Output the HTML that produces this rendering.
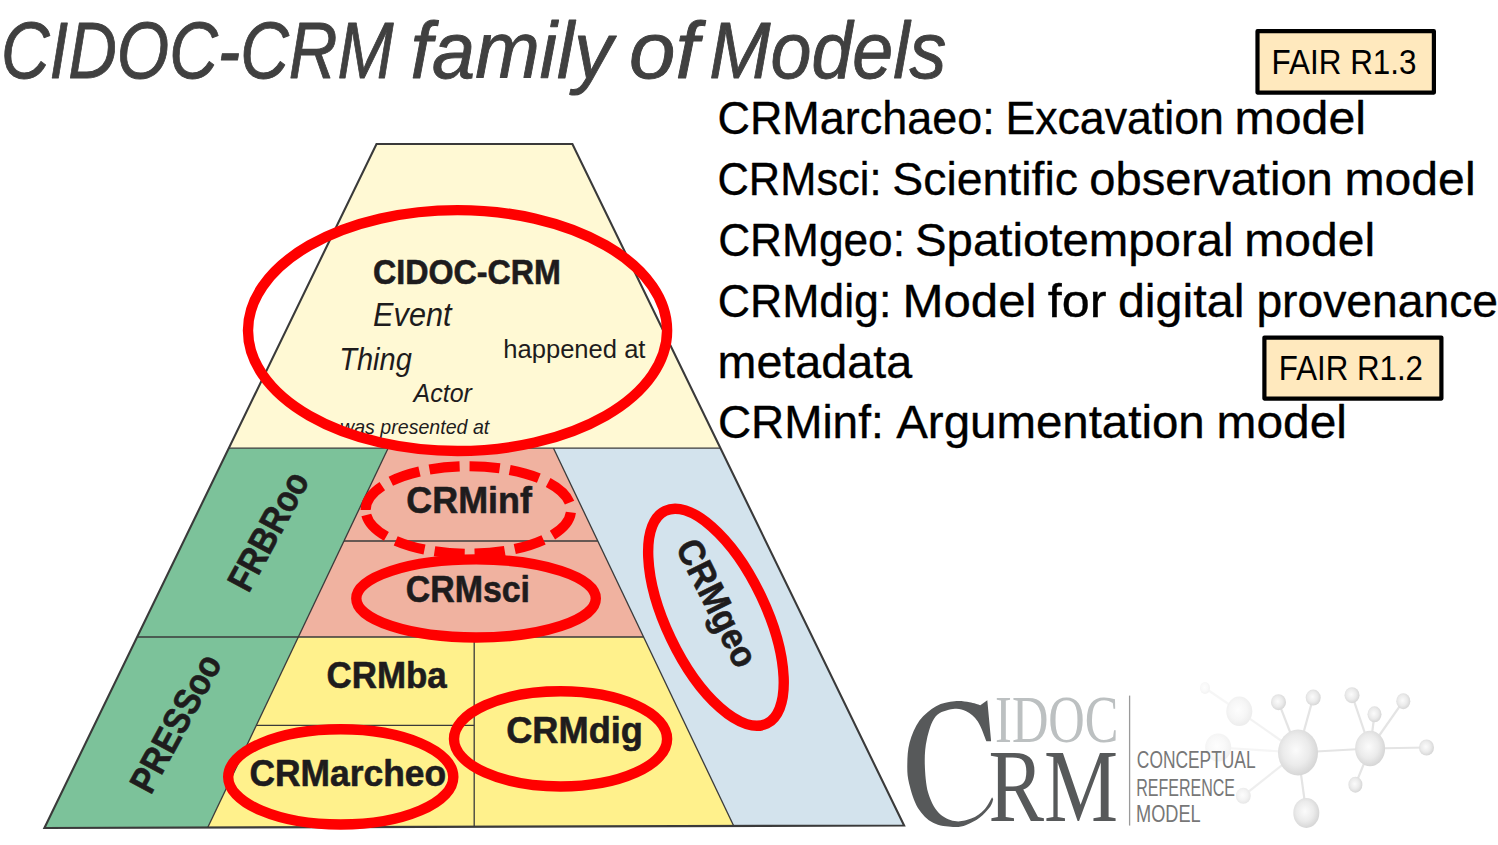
<!DOCTYPE html>
<html><head><meta charset="utf-8"><style>
html,body{margin:0;padding:0;background:#fff;width:1498px;height:845px;overflow:hidden}
svg{display:block}
text{font-kerning:normal}
</style></head><body>
<svg width="1498" height="845" viewBox="0 0 1498 845">
<defs>
<radialGradient id="sph" cx="0.45" cy="0.45" r="0.6"><stop offset="0" stop-color="#fbfbfb"/><stop offset="0.55" stop-color="#ebebeb"/><stop offset="1" stop-color="#d2d2d2"/></radialGradient>
</defs>
<rect width="1498" height="845" fill="#fff"/>
<text transform="translate(0.93,77.80) scale(0.8415,1)" font-family="&quot;Liberation Sans&quot;, sans-serif" font-size="80" fill="#404040" font-style="italic" stroke="#404040" stroke-width="0.9" stroke-linejoin="round">CIDOC-CRM</text><text transform="translate(410.60,77.80) scale(0.9681,1)" font-family="&quot;Liberation Sans&quot;, sans-serif" font-size="80" fill="#404040" font-style="italic" stroke="#404040" stroke-width="0.9" stroke-linejoin="round">family</text><text transform="translate(629.08,77.80) scale(1.0414,1)" font-family="&quot;Liberation Sans&quot;, sans-serif" font-size="80" fill="#404040" font-style="italic" stroke="#404040" stroke-width="0.9" stroke-linejoin="round">of</text><text transform="translate(709.24,77.80) scale(0.9198,1)" font-family="&quot;Liberation Sans&quot;, sans-serif" font-size="80" fill="#404040" font-style="italic" stroke="#404040" stroke-width="0.9" stroke-linejoin="round">Models</text>
<g id="pyr">
<polygon points="376.50,144.00 572.40,144.00 720.46,448.20 228.80,448.20" fill="#FFF9D4"/><polygon points="228.80,448.20 388.10,448.20 207.73,827.53 44.40,828.00" fill="#7CC29A"/><polygon points="388.10,448.20 553.50,448.20 643.58,637.00 298.33,637.00" fill="#F0B2A0"/><polygon points="298.33,637.00 643.58,637.00 733.76,825.99 207.73,827.53" fill="#FFF18C"/><polygon points="553.50,448.20 720.46,448.20 904.10,825.50 733.76,825.99" fill="#D3E3ED"/>
<g stroke="#3a3a3a" stroke-width="1.3"><line x1="228.80" y1="448.2" x2="720.46" y2="448.2"/><line x1="137.14" y1="637" x2="643.58" y2="637"/><line x1="343.98" y1="541" x2="597.77" y2="541"/><line x1="256.29" y1="725.4" x2="474.2" y2="725.4"/><line x1="474.2" y1="637" x2="474.2" y2="826.75"/><line x1="388.10" y1="448.2" x2="207.73" y2="827.53"/><line x1="553.50" y1="448.2" x2="733.76" y2="825.99"/></g>
<polygon points="376.50,144.00 572.40,144.00 904.10,825.50 44.40,828.00" fill="none" stroke="#3a3a3a" stroke-width="2.1" stroke-linejoin="miter"/>
</g>
<g id="ptext">
<text transform="translate(373.06,284.10) scale(0.9396,1)" font-family="&quot;Liberation Sans&quot;, sans-serif" font-size="34.3" fill="#1e1c1d" font-weight="bold" stroke="#1e1c1d" stroke-width="0.6" stroke-linejoin="round">CIDOC-CRM</text><text transform="translate(373.10,326.40) scale(0.9023,1)" font-family="&quot;Liberation Sans&quot;, sans-serif" font-size="34" fill="#1e1c1d" font-style="italic">Event</text><text transform="translate(339.25,369.70) scale(0.9507,1)" font-family="&quot;Liberation Sans&quot;, sans-serif" font-size="30.5" fill="#1e1c1d" font-style="italic">Thing</text><text transform="translate(503.23,358.20) scale(0.9845,1)" font-family="&quot;Liberation Sans&quot;, sans-serif" font-size="26" fill="#1e1c1d">happened at</text><text transform="translate(413.58,401.60) scale(0.9774,1)" font-family="&quot;Liberation Sans&quot;, sans-serif" font-size="25.6" fill="#1e1c1d" font-style="italic">Actor</text><text transform="translate(340.07,434.30) scale(0.9337,1)" font-family="&quot;Liberation Sans&quot;, sans-serif" font-size="21" fill="#1e1c1d" font-style="italic">was presented at</text>
<text transform="translate(406.36,512.80) scale(0.9703,1)" font-family="&quot;Liberation Sans&quot;, sans-serif" font-size="37" fill="#1e1c1d" font-weight="bold" stroke="#1e1c1d" stroke-width="0.6" stroke-linejoin="round">CRMinf</text><text transform="translate(405.67,601.70) scale(0.9168,1)" font-family="&quot;Liberation Sans&quot;, sans-serif" font-size="37" fill="#1e1c1d" font-weight="bold" stroke="#1e1c1d" stroke-width="0.6" stroke-linejoin="round">CRMsci</text><text transform="translate(326.51,688.30) scale(0.9437,1)" font-family="&quot;Liberation Sans&quot;, sans-serif" font-size="37" fill="#1e1c1d" font-weight="bold" stroke="#1e1c1d" stroke-width="0.6" stroke-linejoin="round">CRMba</text><text transform="translate(506.14,743.40) scale(0.9793,1)" font-family="&quot;Liberation Sans&quot;, sans-serif" font-size="37" fill="#1e1c1d" font-weight="bold" stroke="#1e1c1d" stroke-width="0.6" stroke-linejoin="round">CRMdig</text><text transform="translate(249.39,785.60) scale(0.9569,1)" font-family="&quot;Liberation Sans&quot;, sans-serif" font-size="37" fill="#1e1c1d" font-weight="bold" stroke="#1e1c1d" stroke-width="0.6" stroke-linejoin="round">CRMarcheo</text><text transform="translate(268.00,531.00) rotate(-61.5) scale(0.8750,1) translate(-74.00,13.00)" font-family="&quot;Liberation Sans&quot;, sans-serif" font-size="37" fill="#1e1c1d" font-weight="bold" stroke="#1e1c1d" stroke-width="0.6" stroke-linejoin="round">FRBRoo</text><text transform="translate(175.40,723.00) rotate(-61.5) scale(0.8862,1) translate(-85.50,13.00)" font-family="&quot;Liberation Sans&quot;, sans-serif" font-size="37" fill="#1e1c1d" font-weight="bold" stroke="#1e1c1d" stroke-width="0.6" stroke-linejoin="round">PRESSoo</text><text transform="translate(714.00,605.00) rotate(63.5) scale(0.9184,1) translate(-75.50,9.00)" font-family="&quot;Liberation Sans&quot;, sans-serif" font-size="37" fill="#1e1c1d" font-weight="bold" stroke="#1e1c1d" stroke-width="0.6" stroke-linejoin="round">CRMgeo</text>
</g>
<g fill="none" stroke="#FF0000" stroke-width="10.4"><ellipse cx="457.55" cy="330.55" rx="209.55" ry="120.45"/><ellipse cx="476.05" cy="598.45" rx="119.75" ry="39.05"/><ellipse cx="560.55" cy="738.90" rx="106.55" ry="47.60"/><ellipse cx="340.75" cy="776.88" rx="112.55" ry="47.63"/><ellipse cx="0" cy="0" rx="117.9" ry="49.8" transform="translate(715.95,617.25) rotate(64.5)"/></g>
<path d="M365.65,510.00 A102.7,43.75 0 0 1 571.05,510.00 A102.7,43.75 0 0 1 365.65,510.00" fill="none" stroke="#FF0000" stroke-width="10.1" stroke-dasharray="30.2 10.07"/>
<g id="list"><text transform="translate(717.45,133.90) scale(0.9770,1)" font-family="&quot;Liberation Sans&quot;, sans-serif" font-size="46" fill="#000" stroke="#000" stroke-width="0.35" stroke-linejoin="round">CRMarchaeo:</text><text transform="translate(1005.42,133.90) scale(0.9711,1)" font-family="&quot;Liberation Sans&quot;, sans-serif" font-size="46" fill="#000" stroke="#000" stroke-width="0.35" stroke-linejoin="round">Excavation</text><text transform="translate(1234.55,133.90) scale(1.0487,1)" font-family="&quot;Liberation Sans&quot;, sans-serif" font-size="46" fill="#000" stroke="#000" stroke-width="0.35" stroke-linejoin="round">model</text><text transform="translate(717.51,194.80) scale(0.9440,1)" font-family="&quot;Liberation Sans&quot;, sans-serif" font-size="46" fill="#000" stroke="#000" stroke-width="0.35" stroke-linejoin="round">CRMsci:</text><text transform="translate(892.28,194.80) scale(1.0088,1)" font-family="&quot;Liberation Sans&quot;, sans-serif" font-size="46" fill="#000" stroke="#000" stroke-width="0.35" stroke-linejoin="round">Scientific</text><text transform="translate(1089.25,194.80) scale(1.0245,1)" font-family="&quot;Liberation Sans&quot;, sans-serif" font-size="46" fill="#000" stroke="#000" stroke-width="0.35" stroke-linejoin="round">observation</text><text transform="translate(1344.46,194.80) scale(1.0471,1)" font-family="&quot;Liberation Sans&quot;, sans-serif" font-size="46" fill="#000" stroke="#000" stroke-width="0.35" stroke-linejoin="round">model</text><text transform="translate(718.18,255.70) scale(0.9617,1)" font-family="&quot;Liberation Sans&quot;, sans-serif" font-size="46" fill="#000" stroke="#000" stroke-width="0.35" stroke-linejoin="round">CRMgeo:</text><text transform="translate(914.94,255.70) scale(1.0303,1)" font-family="&quot;Liberation Sans&quot;, sans-serif" font-size="46" fill="#000" stroke="#000" stroke-width="0.35" stroke-linejoin="round">Spatiotemporal</text><text transform="translate(1244.27,255.70) scale(1.0445,1)" font-family="&quot;Liberation Sans&quot;, sans-serif" font-size="46" fill="#000" stroke="#000" stroke-width="0.35" stroke-linejoin="round">model</text><text transform="translate(717.66,316.60) scale(0.9711,1)" font-family="&quot;Liberation Sans&quot;, sans-serif" font-size="46" fill="#000" stroke="#000" stroke-width="0.35" stroke-linejoin="round">CRMdig:</text><text transform="translate(902.42,316.60) scale(1.0703,1)" font-family="&quot;Liberation Sans&quot;, sans-serif" font-size="46" fill="#000" stroke="#000" stroke-width="0.35" stroke-linejoin="round">Model</text><text transform="translate(1047.81,316.60) scale(1.0942,1)" font-family="&quot;Liberation Sans&quot;, sans-serif" font-size="46" fill="#000" stroke="#000" stroke-width="0.35" stroke-linejoin="round">for</text><text transform="translate(1117.89,316.60) scale(1.0530,1)" font-family="&quot;Liberation Sans&quot;, sans-serif" font-size="46" fill="#000" stroke="#000" stroke-width="0.35" stroke-linejoin="round">digital</text><text transform="translate(1256.38,316.60) scale(1.0051,1)" font-family="&quot;Liberation Sans&quot;, sans-serif" font-size="46" fill="#000" stroke="#000" stroke-width="0.35" stroke-linejoin="round">provenance</text><text transform="translate(717.56,377.50) scale(1.0143,1)" font-family="&quot;Liberation Sans&quot;, sans-serif" font-size="46" fill="#000" stroke="#000" stroke-width="0.35" stroke-linejoin="round">metadata</text><text transform="translate(717.90,438.40) scale(0.9981,1)" font-family="&quot;Liberation Sans&quot;, sans-serif" font-size="46" fill="#000" stroke="#000" stroke-width="0.35" stroke-linejoin="round">CRMinf:</text><text transform="translate(896.20,438.40) scale(1.0314,1)" font-family="&quot;Liberation Sans&quot;, sans-serif" font-size="46" fill="#000" stroke="#000" stroke-width="0.35" stroke-linejoin="round">Argumentation</text><text transform="translate(1216.58,438.40) scale(1.0412,1)" font-family="&quot;Liberation Sans&quot;, sans-serif" font-size="46" fill="#000" stroke="#000" stroke-width="0.35" stroke-linejoin="round">model</text></g>
<rect x="1257.5" y="31.2" width="176.4" height="61.4" fill="#FFE9BE" stroke="#000" stroke-width="4.2" stroke-linejoin="round"/>
<text transform="translate(1271.61,73.70) scale(0.8975,1)" font-family="&quot;Liberation Sans&quot;, sans-serif" font-size="35" fill="#000">FAIR R1.3</text>
<rect x="1264.4" y="337.6" width="177" height="61" fill="#FFE9BE" stroke="#000" stroke-width="4.2" stroke-linejoin="round"/>
<text transform="translate(1278.82,379.70) scale(0.8930,1)" font-family="&quot;Liberation Sans&quot;, sans-serif" font-size="35" fill="#000">FAIR R1.2</text>
<g id="logo">
<line x1="1298" y1="752.5" x2="1370.1" y2="748.5" stroke="#e4e4e4" stroke-width="2.2" opacity="1"/><line x1="1298" y1="752.5" x2="1239.3" y2="711.3" stroke="#e4e4e4" stroke-width="2.2" opacity="0.45"/><line x1="1298" y1="752.5" x2="1218.2" y2="747.5" stroke="#e4e4e4" stroke-width="2.2" opacity="0.35"/><line x1="1298" y1="752.5" x2="1278.5" y2="702.2" stroke="#e4e4e4" stroke-width="2.2" opacity="1"/><line x1="1298" y1="752.5" x2="1313.2" y2="697.6" stroke="#e4e4e4" stroke-width="2.2" opacity="1"/><line x1="1298" y1="752.5" x2="1243.3" y2="795.8" stroke="#e4e4e4" stroke-width="2.2" opacity="0.6"/><line x1="1298" y1="752.5" x2="1306.3" y2="812.9" stroke="#e4e4e4" stroke-width="2.2" opacity="1"/><line x1="1370.1" y1="748.5" x2="1352" y2="695.2" stroke="#e4e4e4" stroke-width="2.2" opacity="1"/><line x1="1370.1" y1="748.5" x2="1374.5" y2="714.3" stroke="#e4e4e4" stroke-width="2.2" opacity="1"/><line x1="1370.1" y1="748.5" x2="1403.3" y2="701.2" stroke="#e4e4e4" stroke-width="2.2" opacity="1"/><line x1="1370.1" y1="748.5" x2="1426.5" y2="747.5" stroke="#e4e4e4" stroke-width="2.2" opacity="1"/><line x1="1370.1" y1="748.5" x2="1355.4" y2="784.7" stroke="#e4e4e4" stroke-width="2.2" opacity="1"/><line x1="1239.3" y1="711.3" x2="1205" y2="688" stroke="#e4e4e4" stroke-width="2.2" opacity="0.3"/><ellipse cx="1298" cy="752.5" rx="20" ry="23" fill="url(#sph)" opacity="1"/><ellipse cx="1370.1" cy="748.5" rx="15" ry="17.7" fill="url(#sph)" opacity="1"/><ellipse cx="1239.3" cy="711.3" rx="13" ry="14.7" fill="#fff"/><ellipse cx="1239.3" cy="711.3" rx="13" ry="14.7" fill="url(#sph)" opacity="0.45"/><ellipse cx="1218.2" cy="747.5" rx="13" ry="14" fill="#fff"/><ellipse cx="1218.2" cy="747.5" rx="13" ry="14" fill="url(#sph)" opacity="0.35"/><ellipse cx="1278.5" cy="702.2" rx="7.5" ry="8" fill="url(#sph)" opacity="1"/><ellipse cx="1313.2" cy="697.6" rx="7.5" ry="8" fill="url(#sph)" opacity="1"/><ellipse cx="1205" cy="688" rx="5" ry="6" fill="#fff"/><ellipse cx="1205" cy="688" rx="5" ry="6" fill="url(#sph)" opacity="0.3"/><ellipse cx="1243.3" cy="795.8" rx="7.5" ry="8" fill="#fff"/><ellipse cx="1243.3" cy="795.8" rx="7.5" ry="8" fill="url(#sph)" opacity="0.6"/><ellipse cx="1306.3" cy="812.9" rx="13" ry="15" fill="url(#sph)" opacity="1"/><ellipse cx="1352" cy="695.2" rx="7.5" ry="8" fill="url(#sph)" opacity="1"/><ellipse cx="1374.5" cy="714.3" rx="7" ry="8" fill="url(#sph)" opacity="1"/><ellipse cx="1403.3" cy="701.2" rx="7" ry="8" fill="url(#sph)" opacity="1"/><ellipse cx="1426.5" cy="747.5" rx="7.5" ry="8" fill="url(#sph)" opacity="1"/><ellipse cx="1355.4" cy="784.7" rx="7" ry="8" fill="url(#sph)" opacity="1"/>
<path d="M987.3,700.3 L991.1,741.3 L986.4,741.3 C985.0,738.0 981.2,726.5 977.8,721.5 C974.4,716.4 970.4,713.3 966.2,711.2 C962.1,709.1 958.1,708.2 953.0,709.0 C947.9,709.9 940.0,711.4 935.6,716.5 C931.2,721.6 928.6,731.7 926.8,739.7 C925.0,747.7 924.6,755.7 924.8,764.5 C925.1,773.3 925.9,784.6 928.1,792.6 C930.4,800.7 934.0,807.8 938.4,812.5 C942.8,817.3 949.2,820.1 954.6,821.1 C960.1,822.1 966.2,820.6 971.2,818.6 C976.2,816.7 981.0,813.1 984.4,809.5 C987.9,806.0 990.8,799.3 992.1,797.3 L993.2,799.3 C992.7,800.5 992.5,803.6 990.2,806.7 C987.9,809.8 983.5,814.8 979.5,817.8 C975.5,820.8 970.6,823.4 966.2,824.9 C961.8,826.5 958.5,827.3 953.0,826.9 C947.5,826.6 939.0,826.0 933.1,822.8 C927.3,819.6 921.9,814.4 917.9,807.9 C913.9,801.3 910.9,790.8 909.1,783.5 C907.3,776.3 907.2,771.3 907.3,764.5 C907.4,757.7 907.6,750.0 909.6,742.6 C911.6,735.3 915.1,726.7 919.5,720.6 C924.0,714.6 930.2,709.5 936.1,706.2 C941.9,703.0 949.1,701.9 954.6,701.3 C960.2,700.6 965.3,701.6 969.5,702.3 C973.8,702.9 978.5,704.7 980.3,705.2 Z" fill="#57595a"/><text transform="translate(995.09,741.50) scale(0.7538,1)" font-family="&quot;Liberation Serif&quot;, serif" font-size="67" fill="#bcc0c1">IDOC</text><text transform="translate(988.40,820.60) scale(0.8006,1)" font-family="&quot;Liberation Serif&quot;, serif" font-size="104" fill="#57595a">RM</text>
<line x1="1129.6" y1="695.6" x2="1129.6" y2="825.6" stroke="#9a9a9a" stroke-width="1.3"/>
<text transform="translate(1136.85,767.80) scale(0.7456,1)" font-family="&quot;Liberation Sans&quot;, sans-serif" font-size="23.3" fill="#777777">CONCEPTUAL</text><text transform="translate(1136.22,795.80) scale(0.6879,1)" font-family="&quot;Liberation Sans&quot;, sans-serif" font-size="23.3" fill="#777777">REFERENCE</text><text transform="translate(1136.04,822.40) scale(0.7800,1)" font-family="&quot;Liberation Sans&quot;, sans-serif" font-size="23.3" fill="#777777">MODEL</text>
</g>
</svg>
</body></html>
